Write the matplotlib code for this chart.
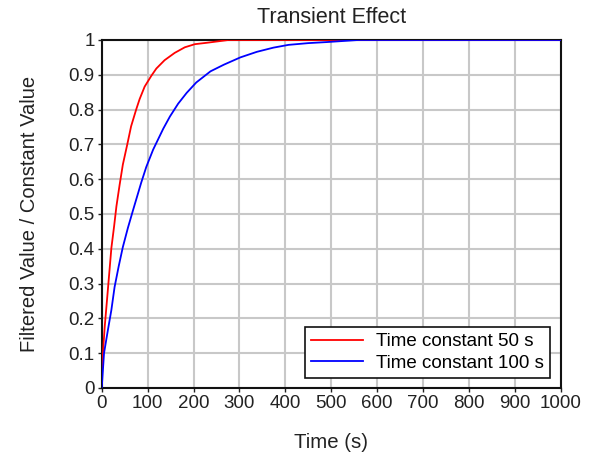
import matplotlib
matplotlib.use("Agg")
import matplotlib.pyplot as plt

# Data
red_t = [0, 1, 6.5, 11.5, 17, 21, 27, 32, 39, 46, 55.5, 64, 75, 82.5, 93.5,
         108, 119, 137, 159, 181, 203, 229, 276, 1000]
red_v = [0.03, 0.07, 0.176, 0.253, 0.339, 0.402, 0.465, 0.522, 0.584, 0.642,
         0.699, 0.752, 0.800, 0.830, 0.866, 0.897, 0.918, 0.942, 0.963, 0.979,
         0.988, 0.992, 1.0, 1.0]

blue_t = [0, 5, 13.5, 21, 28, 37, 46, 57, 68, 77, 86, 97, 112, 123, 134, 148.5,
          166.5, 185, 206, 237, 266, 302, 338, 374, 407, 450, 490, 559, 1000]
blue_v = [0.0, 0.10, 0.167, 0.224, 0.29, 0.350, 0.405, 0.460, 0.510, 0.550,
          0.590, 0.635, 0.685, 0.715, 0.745, 0.780, 0.817, 0.848, 0.878, 0.910,
          0.929, 0.950, 0.966, 0.978, 0.986, 0.991, 0.994, 1.0, 1.0]

x_ticks = [0, 100, 200, 300, 400, 500, 600, 700, 800, 900, 1000]
y_ticks = [0, 0.1, 0.2, 0.3, 0.4, 0.5, 0.6, 0.7, 0.8, 0.9, 1]
y_tick_labels = ["0", "0.1", "0.2", "0.3", "0.4", "0.5", "0.6", "0.7", "0.8", "0.9", "1"]
series_labels = ["Time constant 50 s", "Time constant 100 s"]

plt.rcParams['font.family'] = ['Liberation Sans', 'DejaVu Sans']
fs = 13.5

fig = plt.figure(figsize=(6.03, 4.57), dpi=100)
ax = fig.add_axes([0.1687, 0.151, 0.7613, 0.7615])

ax.plot(red_t, red_v, color='#ff0000', lw=1.3, label=series_labels[0], zorder=3)
ax.plot(blue_t, blue_v, color='#0000ff', lw=1.3, label=series_labels[1], zorder=3)

ax.set_xlim(0, 1000)
ax.set_ylim(0, 1)
ax.set_xticks(x_ticks)
ax.set_xticklabels([str(v) for v in x_ticks])
ax.set_yticks(y_ticks)
ax.set_yticklabels(y_tick_labels)
ax.tick_params(labelsize=fs, length=3, width=1, colors='#222222', pad=2)
ax.grid(True, color='#c8c8c8', lw=1.5)
ax.set_axisbelow(True)
for s in ax.spines.values():
    s.set_linewidth(1.5)
    s.set_color('#111111')

ax.set_title("Transient Effect", fontsize=15.5, color='#222222', pad=12)
ax.set_xlabel("Time (s)", fontsize=14.7, color='#222222', labelpad=15)
ax.set_ylabel("Filtered Value / Constant Value", fontsize=14.5, color='#222222', labelpad=21)

leg = ax.legend(loc='lower right', bbox_to_anchor=(0.976, 0.03), borderaxespad=0,
                fontsize=fs, frameon=True, fancybox=False, framealpha=1,
                edgecolor='#111111', handlelength=2.8, handletextpad=0.7,
                borderpad=0.3, labelspacing=0.25)
leg.get_frame().set_linewidth(1.2)

fig.savefig("out.png", dpi=100)
